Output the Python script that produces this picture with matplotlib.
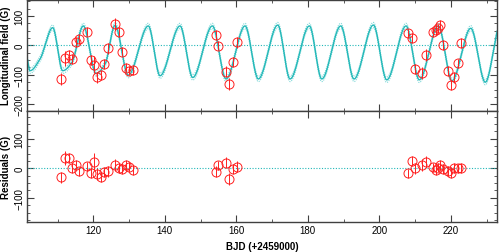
import numpy as np
import matplotlib
matplotlib.use("Agg")
import matplotlib.pyplot as plt
from matplotlib.ticker import MultipleLocator

plt.rcParams['font.family'] = ['Liberation Sans', 'DejaVu Sans']

# ---------------- data ----------------
# observations: BJD - 2459000, longitudinal field (G), error (G)
obs_t = [111.0, 112.1, 113.2, 114.1, 115.2, 116.1, 118.2, 119.3, 120.3, 121.1,
         122.2, 123.1, 124.0, 126.2, 127.1, 128.1, 129.1, 130.1, 131.2,
         154.2, 155.0, 157.0, 158.0, 159.0, 160.1,
         208.0, 209.0, 210.0, 212.0, 213.1, 215.0, 215.7, 216.3, 217.0, 217.9,
         219.1, 220.0, 220.9, 221.9, 222.9]
obs_b = [-114, -44, -34, -47, 12, 22, 47, -51, -65, -109,
         -101, -63, -10, 72, 47, -21, -76, -86, -84,
         35, -1, -89, -131, -56, 10,
         41, 25, -80, -94, -33, 44, 52, 58, 69, 2,
         -86, -135, -109, -61, 7]
obs_err = [19, 25, 18, 17, 16, 16, 16, 17, 28, 20,
           17, 17, 18, 20, 17, 16, 16, 16, 17,
           18, 16, 18, 20, 18, 20,
           16, 17, 18, 20, 20, 16, 16, 16, 17, 16,
           17, 18, 17, 16, 17]
# residuals (G) for the same epochs
res_b = [-31, 35, 35, 0, 12, -10, 7, -17, 23, -19,
         -28, -14, -10, 12, 0, -2, 11, 6, -5,
         -11, 10, 19, -36, -2, 6,
         -17, 24, 0, 12, 23, 3, -5, 2, 10, -3,
         -8, -15, 0, 0, 1]

# model curve knots (extrema and shoulders)
model_t = [101.45, 102.29, 105.1, 108.64, 111.44, 114.0, 117.20, 120.76, 123.3, 126.07,
           129.79, 135.38, 138.66, 144.25, 147.80, 153.29, 157.12, 162.43, 166.15,
           171.58, 175.02, 180.42, 183.89, 189.20, 192.92, 198.32, 202.06, 207.47,
           211.16, 216.50, 220.29, 225.57, 229.62, 232.9]
model_b = [-41, -86, -46, 60, -86, -58, 66, -95, -63, 68,
           -101, 66, -103, 66, -109, 66, -114, 66, -114,
           69, -114, 66, -114, 66, -114, 69, -117, 66,
           -117, 66, -120, 58, -125, 45]
band_halfwidth = 9

xlim = (101.45, 232.9)
ylim_top = (-221, 155)
ylim_bot = (-183, 196)


def pchip(xk, yk, x):
    xk = np.asarray(xk, float)
    yk = np.asarray(yk, float)
    h = np.diff(xk)
    d = np.diff(yk) / h
    m = np.zeros_like(yk)
    for i in range(1, len(xk) - 1):
        if d[i - 1] * d[i] > 0:
            w1 = 2 * h[i] + h[i - 1]
            w2 = h[i] + 2 * h[i - 1]
            m[i] = (w1 + w2) / (w1 / d[i - 1] + w2 / d[i])
        else:
            m[i] = 0.0
    m[0] = d[0]
    m[-1] = d[-1]
    idx = np.clip(np.searchsorted(xk, x) - 1, 0, len(xk) - 2)
    t = (x - xk[idx]) / h[idx]
    h00 = 2 * t**3 - 3 * t**2 + 1
    h10 = t**3 - 2 * t**2 + t
    h01 = -2 * t**3 + 3 * t**2
    h11 = t**3 - t**2
    return h00 * yk[idx] + h10 * h[idx] * m[idx] + h01 * yk[idx + 1] + h11 * h[idx] * m[idx + 1]


fig = plt.figure(figsize=(4.99, 2.53), dpi=100)
L, R = 27 / 499, 497 / 499
ax1 = fig.add_axes([L, 1 - 111.5 / 253, R - L, 110.8 / 253])
ax2 = fig.add_axes([L, 1 - 223.3 / 253, R - L, 111.8 / 253])

cyan = '#22b8b8'
band = '#7fd8d8'
red = '#ff2020'
framec = '#404040'

xs = np.linspace(xlim[0], xlim[1], 3000)
ys = pchip(model_t, model_b, xs)

ax1.axhline(0, color=cyan, lw=0.8, ls=(0, (1, 1.5)))
ax1.plot(xs, ys + band_halfwidth, color=band, lw=0.8, ls=(0, (1, 1)))
ax1.plot(xs, ys - band_halfwidth, color=band, lw=0.8, ls=(0, (1, 1)))
ax1.plot(xs, ys, color=cyan, lw=1.0)
ax1.errorbar(obs_t, obs_b, yerr=obs_err, fmt='o', mfc='none', mec=red, ecolor=red,
             ms=6.5, mew=0.7, elinewidth=0.7, capsize=0)

ax2.axhline(0, color=cyan, lw=0.8, ls=(0, (1, 1.5)))
ax2.errorbar(obs_t, res_b, yerr=obs_err, fmt='o', mfc='none', mec=red, ecolor=red,
             ms=6.5, mew=0.7, elinewidth=0.7, capsize=0)

for ax, yl in ((ax1, ylim_top), (ax2, ylim_bot)):
    ax.set_xlim(*xlim)
    ax.set_ylim(*yl)
    ax.xaxis.set_major_locator(MultipleLocator(20))
    ax.xaxis.set_minor_locator(MultipleLocator(10))
    ax.yaxis.set_major_locator(MultipleLocator(100))
    ax.yaxis.set_minor_locator(MultipleLocator(25))
    ax.tick_params(which='both', direction='in', top=True, right=True,
                   color=framec, labelsize=7, pad=2)
    ax.tick_params(which='major', length=5, width=0.8)
    ax.tick_params(which='minor', length=2.5, width=0.6)
    for s in ax.spines.values():
        s.set_color(framec)
        s.set_linewidth(1.0)
    for lab in ax.get_yticklabels():
        lab.set_rotation(90)
        lab.set_va('center')

ax1.tick_params(labelbottom=False)
ax1.set_ylabel('Longitudinal field (G)', fontsize=7, fontweight='bold')
ax2.set_ylabel('Residuals (G)', fontsize=7, fontweight='bold')
ax2.set_xlabel('BJD (+2459000)', fontsize=7, fontweight='bold', labelpad=4)
ax1.yaxis.set_label_coords(-0.034, 0.5)
ax2.yaxis.set_label_coords(-0.034, 0.5)

fig.savefig('out.png', dpi=100)
